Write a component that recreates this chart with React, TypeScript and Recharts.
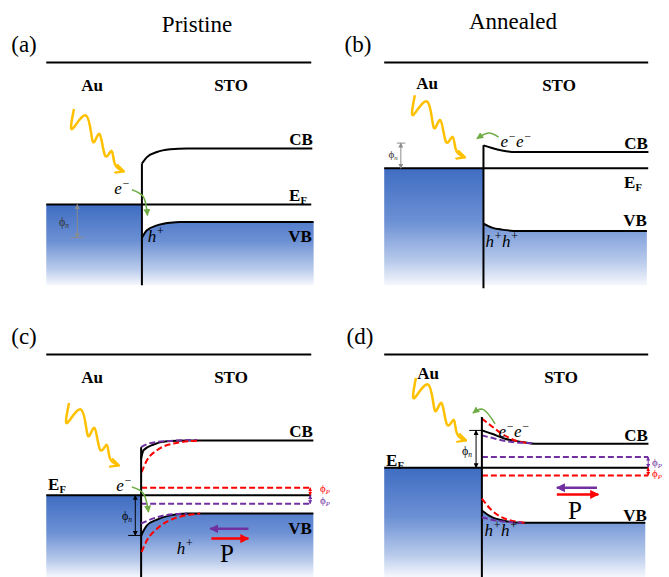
import React from "react";
import { ComposedChart, Line, Area, XAxis, YAxis } from "recharts";

type Pt = { x: number; y: number };
const p = (x: number, y: number): Pt => ({ x, y });

// x: position across the panel (0..100, interface ~36), y: energy (0 = bottom, 100 = vacuum line)

// ---- (a) Pristine, dark
const VAC_A = [p(0, 100), p(100, 100)];
const CB_A = [p(36.1, 54.6), p(38.0, 57.5), p(41.8, 59.8), p(46.8, 61.0), p(53.1, 61.4), p(100.4, 61.4)];
const IF_A = [p(36.1, 54.6), p(36.1, 0)];
const EF_A = [p(0, 36.3), p(100, 36.3)];
const VB_A = [p(36.1, 21.4), p(38.0, 24.7), p(41.8, 26.9), p(46.8, 28.1), p(50.6, 28.4), p(100.9, 28.4)];
const METAL_A = [p(0, 36.3), p(36.1, 36.3)];
const PHI_N_A = [p(11.7, 36.3), p(11.7, 21.4)];
const TICK_A = [p(9.1, 21.4), p(14.3, 21.4)];
const WAVE_A = [p(10.45, 79.1), p(9.8, 70.1), p(15.1, 76.1), p(17.6, 64.4), p(20.1, 67.9), p(22.2, 58.2), p(24.6, 60.4), p(25.9, 54.4), p(29.3, 51.1)];
const GREEN_A = [p(32.3, 42.9), p(36.7, 39.6), p(38.2, 31.4)];

// ---- (b) Annealed, dark
const VAC_B = [p(0, 100), p(100, 100)];
const CB_B = [p(37.6, 62.8), p(40.8, 61.6), p(44.6, 60.5), p(49.6, 59.8), p(100.1, 59.8)];
const IF_B = [p(37.6, 62.8), p(37.6, -1.3)];
const EF_B = [p(0, 52.5), p(100, 52.5)];
const VB_B = [p(37.6, 27.7), p(40.8, 25.9), p(44.6, 25.0), p(50.9, 24.4), p(99.5, 24.4)];
const METAL_B = [p(0, 52.5), p(37.6, 52.5)];
const PHI_N_B = [p(6.3, 52.5), p(6.3, 63.8)];
const TICK_B = [p(4.8, 63.8), p(8.0, 63.8)];
const WAVE_B = [p(11.6, 85.3), p(11.0, 76.4), p(16.3, 82.4), p(18.8, 70.7), p(21.3, 74.1), p(23.4, 64.4), p(25.9, 66.7), p(27.2, 60.7), p(30.6, 57.4)];
const GREEN_B = [p(43.3, 66.5), p(39.5, 68.3), p(35.1, 65.8)];

// ---- (c) Pristine, illuminated with polarization
const VAC_C = [p(0, 100), p(100, 100)];
const CB_C = [p(35.8, 53.2), p(36.7, 57.0), p(40.5, 59.6), p(45.5, 61.0), p(53.1, 61.4), p(100.8, 61.4)];
const CB_C_PUR = [p(35.8, 58.4), p(39.2, 60.2), p(45.5, 61.1), p(56.9, 61.6)];
const CB_C_RED = [p(36.0, 47.2), p(38.0, 52.5), p(41.8, 57.0), p(48.0, 60.0), p(58.1, 61.4)];
const IF_C = [p(35.8, 58.4), p(35.8, 0)];
const EF_C = [p(0, 36.8), p(100, 36.8)];
const EF_C_RED = [p(35.8, 40.2), p(100, 40.2)];
const EF_C_PUR = [p(35.8, 33.0), p(100, 33.0)];
const VB_C = [p(35.8, 18.8), p(38.0, 23.3), p(41.8, 25.9), p(46.8, 27.8), p(53.1, 28.6), p(100.8, 28.6)];
const VB_C_PUR = [p(35.8, 24.1), p(39.2, 25.9), p(45.5, 28.0), p(53.1, 28.6)];
const VB_C_RED = [p(36.0, 11.4), p(38.0, 16.6), p(41.8, 21.8), p(48.0, 26.3), p(58.1, 28.6)];
const METAL_C = [p(0, 36.8), p(35.8, 36.8)];
const PHI_N_C = [p(33.6, 36.8), p(33.6, 18.8)];
const TICK_C = [p(30.9, 18.8), p(36.2, 18.8)];
const PHI_P_C_RED = [p(99.6, 40.2), p(99.6, 36.8)];
const PHI_P_C_PUR = [p(99.6, 36.8), p(99.6, 33.0)];
const P_LEFT_C = [p(76.3, 21.8), p(61.9, 21.8)];
const P_RIGHT_C = [p(62.3, 17.4), p(76.3, 17.4)];
const WAVE_C = [p(8.6, 78.2), p(7.9, 69.2), p(13.2, 75.2), p(15.7, 63.5), p(18.2, 67.0), p(20.3, 57.3), p(22.8, 59.5), p(24.0, 53.5), p(27.4, 50.2)];
const GREEN_C = [p(32.3, 40.5), p(36.7, 37.5), p(38.6, 29.3)];

// ---- (d) Annealed, illuminated with polarization
const VAC_D = [p(0, 100), p(100, 100)];
const CB_D = [p(37.0, 65.9), p(40.8, 64.4), p(45.8, 62.2), p(52.2, 60.7), p(57.2, 59.9), p(100.1, 59.9)];
const CB_D_RED = [p(37.0, 71.2), p(39.5, 68.9), p(44.6, 64.4), p(49.6, 61.4), p(54.7, 60.2)];
const CB_D_PUR = [p(37.0, 63.7), p(42.0, 62.2), p(48.4, 60.7), p(56.0, 60.2)];
const IF_D = [p(37.0, 71.9), p(37.0, -1)];
const EF_D = [p(0, 49.2), p(100, 49.2)];
const EF_D_PUR = [p(37.0, 54.0), p(100, 54.0)];
const EF_D_RED = [p(37.0, 45.7), p(100, 45.7)];
const VB_D = [p(37.0, 30.0), p(40.8, 27.0), p(45.8, 25.3), p(52.2, 24.5), p(98.9, 24.5)];
const VB_D_RED = [p(37.0, 35.3), p(40.8, 30.0), p(45.8, 26.3), p(53.4, 24.5)];
const VB_D_PUR = [p(37.0, 27.0), p(43.3, 25.3), p(52.2, 24.5)];
const METAL_D = [p(0, 49.2), p(37.0, 49.2)];
const PHI_N_D = [p(34.8, 49.2), p(34.8, 65.9)];
const TICK_D = [p(32.2, 65.9), p(37.5, 65.9)];
const PHI_P_D_PUR = [p(100, 54.0), p(100, 49.2)];
const PHI_P_D_RED = [p(100, 49.2), p(100, 45.7)];
const P_LEFT_D = [p(80.6, 40.2), p(65.4, 40.2)];
const P_RIGHT_D = [p(65.4, 37.2), p(81.1, 37.2)];
const WAVE_D = [p(12.0, 89.4), p(11.4, 80.4), p(16.7, 86.4), p(19.2, 74.8), p(21.7, 78.2), p(23.8, 68.5), p(26.3, 70.7), p(27.5, 64.7), p(31.0, 61.4)];
const GREEN_D = [p(42.0, 68.9), p(37.6, 75.2), p(33.6, 73.7)];

const X_DOMAIN: [number, number] = [-5, 105];
const Y_DOMAIN: [number, number] = [-2, 106];

const BLACK = "#000000";
const RED = "#ff0000";
const PURPLE = "#7030a0";
const GREEN = "#70ad47";
const YELLOW = "#ffc000";
const GRAY = "#8c8c8c";
const SERIF = '"Liberation Serif", "Times New Roman", Times, serif';

type Curve = "linear" | "monotone" | "natural";
interface Seg {
  data: Pt[];
  color: string;
  width?: number;
  dash?: string;
  curve?: Curve;
  start?: string;
  end?: string;
}

const solid = (data: Pt[], curve: Curve = "monotone"): Seg => ({ data, color: BLACK, width: 2, curve });
const dashed = (data: Pt[], color: string, curve: Curve = "monotone"): Seg => ({ data, color, width: 2, dash: "6 3", curve });

function Head({ id, color, size, open }: { id: string; color: string; size: number; open?: boolean }) {
  return (
    <marker id={id} viewBox="0 0 10 10" refX={9} refY={5} markerWidth={size} markerHeight={size} markerUnits="userSpaceOnUse" orient="auto-start-reverse">
      {open ? (
        <path d="M1,1 L9,5 L1,9" fill="none" stroke={color} strokeWidth={2.2} strokeLinecap="round" />
      ) : (
        <path d="M0,0 L10,5 L0,10 z" fill={color} />
      )}
    </marker>
  );
}

interface PanelProps {
  id: string;
  left: number;
  top: number;
  width: number;
  height: number;
  gradTop: number;
  fills: Pt[][];
  lines: (id: string) => Seg[];
}

function BandPanel({ id, left, top, width, height, gradTop, fills, lines }: PanelProps) {
  const ySvg = (v: number) => ((Y_DOMAIN[1] - v) / (Y_DOMAIN[1] - Y_DOMAIN[0])) * height;
  const segs = lines(id);
  return (
    <div style={{ position: "absolute", left, top }}>
      <ComposedChart width={width} height={height} margin={{ top: 0, right: 0, bottom: 0, left: 0 }}>
        <defs>
          <linearGradient id={`${id}-blue`} gradientUnits="userSpaceOnUse" x1={0} y1={ySvg(gradTop)} x2={0} y2={ySvg(0)}>
            <stop offset="0" stopColor="#3f6dc2" />
            <stop offset="0.45" stopColor="#6c90d4" />
            <stop offset="0.8" stopColor="#b9cbeb" />
            <stop offset="1" stopColor="#f6f8fd" />
          </linearGradient>
          <Head id={`${id}-yel`} color={YELLOW} size={10} open />
          <Head id={`${id}-grn`} color={GREEN} size={7} />
          <Head id={`${id}-red`} color={RED} size={9} />
          <Head id={`${id}-pur`} color={PURPLE} size={9} />
          <Head id={`${id}-blk`} color={BLACK} size={5} />
          <Head id={`${id}-gry`} color={GRAY} size={5} />
          <Head id={`${id}-redS`} color={RED} size={4} />
          <Head id={`${id}-purS`} color={PURPLE} size={4} />
        </defs>
        <XAxis type="number" dataKey="x" domain={X_DOMAIN} allowDataOverflow hide />
        <YAxis type="number" dataKey="y" domain={Y_DOMAIN} allowDataOverflow hide />
        {fills.map((d, i) => (
          <Area
            key={`f${i}`}
            data={d}
            dataKey="y"
            type="monotone"
            baseValue={0}
            stroke="none"
            fill={`url(#${id}-blue)`}
            fillOpacity={1}
            isAnimationActive={false}
            activeDot={false}
          />
        ))}
        {segs.map((s, i) => (
          <Line
            key={`l${i}`}
            data={s.data}
            dataKey="y"
            type={s.curve || "linear"}
            stroke={s.color}
            strokeWidth={s.width || 2}
            strokeDasharray={s.dash}
            dot={false}
            activeDot={false}
            markerStart={s.start ? `url(#${s.start})` : undefined}
            markerEnd={s.end ? `url(#${s.end})` : undefined}
            isAnimationActive={false}
          />
        ))}
      </ComposedChart>
    </div>
  );
}

function Txt({ x, y, size = 16, bold, italic, color = "#000", children }: any) {
  return (
    <div
      style={{
        position: "absolute",
        left: x,
        top: y,
        transform: "translate(-50%, -50%)",
        fontFamily: SERIF,
        fontSize: size,
        fontWeight: bold ? 700 : 400,
        fontStyle: italic ? "italic" : "normal",
        color,
        whiteSpace: "nowrap",
        lineHeight: 1,
      }}
    >
      {children}
    </div>
  );
}

const Sub = ({ children, italic }: any) => (
  <sub style={{ fontSize: "0.62em", verticalAlign: "-0.3em", lineHeight: 0, fontStyle: italic ? "italic" : undefined }}>{children}</sub>
);
const Sup = ({ children }: any) => (
  <sup style={{ fontSize: "0.7em", verticalAlign: "0.55em", lineHeight: 0 }}>{children}</sup>
);

const Ef = () => (
  <span>
    E<Sub>F</Sub>
  </span>
);
const PhiN = () => (
  <span>
    ϕ<Sub italic>n</Sub>
  </span>
);
const PhiP = () => (
  <span>
    ϕ<Sub italic>P</Sub>
  </span>
);
const El = () => (
  <span>
    e<Sup>−</Sup>
  </span>
);
const Ho = () => (
  <span>
    h<Sup>+</Sup>
  </span>
);

const COL1 = { left: 46 - 5 * 2.65, width: 110 * 2.65 };
const COL2 = { left: 384 - 5 * 2.64, width: 110 * 2.64 };
const ROW_H = 108 * 2.23;
const ROW1_TOP = 285 - 106 * 2.23;
const ROW2_TOP = 577 - 106 * 2.23;

export default function App() {
  return (
    <div style={{ position: "fixed", left: 0, top: 0, width: 669, height: 577, overflow: "hidden", background: "#fff" }}>
      <BandPanel
        id="pa"
        left={COL1.left}
        top={ROW1_TOP}
        width={COL1.width}
        height={ROW_H}
        gradTop={36.3}
        fills={[METAL_A, VB_A]}
        lines={(id) => [
          solid(VAC_A, "linear"),
          solid(EF_A, "linear"),
          solid(CB_A),
          solid(IF_A, "linear"),
          solid(VB_A),
          { data: PHI_N_A, color: GRAY, width: 1, start: `${id}-gry`, end: `${id}-gry` },
          { data: TICK_A, color: GRAY, width: 1 },
          { data: WAVE_A, color: YELLOW, width: 2.5, curve: "natural", end: `${id}-yel` },
          { data: GREEN_A, color: GREEN, width: 1.5, curve: "natural", end: `${id}-grn` },
        ]}
      />
      <BandPanel
        id="pb"
        left={COL2.left}
        top={ROW1_TOP}
        width={COL2.width}
        height={ROW_H}
        gradTop={52.5}
        fills={[METAL_B, VB_B]}
        lines={(id) => [
          solid(VAC_B, "linear"),
          solid(EF_B, "linear"),
          solid(CB_B),
          solid(IF_B, "linear"),
          solid(VB_B),
          { data: PHI_N_B, color: GRAY, width: 1, start: `${id}-gry`, end: `${id}-gry` },
          { data: TICK_B, color: GRAY, width: 1 },
          { data: WAVE_B, color: YELLOW, width: 2.5, curve: "natural", end: `${id}-yel` },
          { data: GREEN_B, color: GREEN, width: 1.5, curve: "natural", end: `${id}-grn` },
        ]}
      />
      <BandPanel
        id="pc"
        left={COL1.left}
        top={ROW2_TOP}
        width={COL1.width}
        height={ROW_H}
        gradTop={36.8}
        fills={[METAL_C, VB_C]}
        lines={(id) => [
          solid(VAC_C, "linear"),
          solid(EF_C, "linear"),
          dashed(EF_C_RED, RED, "linear"),
          dashed(EF_C_PUR, PURPLE, "linear"),
          solid(CB_C),
          dashed(CB_C_PUR, PURPLE),
          dashed(CB_C_RED, RED),
          solid(IF_C, "linear"),
          solid(VB_C),
          dashed(VB_C_PUR, PURPLE),
          dashed(VB_C_RED, RED),
          { data: PHI_N_C, color: BLACK, width: 1, start: `${id}-blk`, end: `${id}-blk` },
          { data: TICK_C, color: BLACK, width: 1 },
          { data: PHI_P_C_RED, color: RED, width: 1, start: `${id}-redS`, end: `${id}-redS` },
          { data: PHI_P_C_PUR, color: PURPLE, width: 1, start: `${id}-purS`, end: `${id}-purS` },
          { data: P_LEFT_C, color: PURPLE, width: 2.5, end: `${id}-pur` },
          { data: P_RIGHT_C, color: RED, width: 2.5, end: `${id}-red` },
          { data: WAVE_C, color: YELLOW, width: 2.5, curve: "natural", end: `${id}-yel` },
          { data: GREEN_C, color: GREEN, width: 1.5, curve: "natural", end: `${id}-grn` },
        ]}
      />
      <BandPanel
        id="pd"
        left={COL2.left}
        top={ROW2_TOP}
        width={COL2.width}
        height={ROW_H}
        gradTop={49.2}
        fills={[METAL_D, VB_D]}
        lines={(id) => [
          solid(VAC_D, "linear"),
          solid(EF_D, "linear"),
          dashed(EF_D_PUR, PURPLE, "linear"),
          dashed(EF_D_RED, RED, "linear"),
          solid(CB_D),
          dashed(CB_D_RED, RED),
          dashed(CB_D_PUR, PURPLE),
          solid(IF_D, "linear"),
          solid(VB_D),
          dashed(VB_D_RED, RED),
          dashed(VB_D_PUR, PURPLE),
          { data: PHI_N_D, color: BLACK, width: 1, start: `${id}-blk`, end: `${id}-blk` },
          { data: TICK_D, color: BLACK, width: 1 },
          { data: PHI_P_D_PUR, color: PURPLE, width: 1, start: `${id}-purS`, end: `${id}-purS` },
          { data: PHI_P_D_RED, color: RED, width: 1, start: `${id}-redS`, end: `${id}-redS` },
          { data: P_LEFT_D, color: PURPLE, width: 2.5, end: `${id}-pur` },
          { data: P_RIGHT_D, color: RED, width: 2.5, end: `${id}-red` },
          { data: WAVE_D, color: YELLOW, width: 2.5, curve: "natural", end: `${id}-yel` },
          { data: GREEN_D, color: GREEN, width: 1.5, curve: "natural", end: `${id}-grn` },
        ]}
      />

      {/* headings */}
      <Txt x={197} y={24} size={23}>Pristine</Txt>
      <Txt x={513} y={21} size={23}>Annealed</Txt>
      <Txt x={24} y={44} size={23}>(a)</Txt>
      <Txt x={358} y={44} size={23}>(b)</Txt>
      <Txt x={24} y={336} size={23}>(c)</Txt>
      <Txt x={360} y={336} size={23}>(d)</Txt>

      {/* (a) */}
      <Txt x={92} y={85} size={17} bold>Au</Txt>
      <Txt x={231} y={85} size={17} bold>STO</Txt>
      <Txt x={301} y={139} size={17} bold>CB</Txt>
      <Txt x={298} y={195} size={17} bold><Ef /></Txt>
      <Txt x={300} y={236} size={17} bold>VB</Txt>
      <Txt x={64} y={222} size={12} color="#333"><PhiN /></Txt>
      <Txt x={122} y={188} size={17} italic><El /></Txt>
      <Txt x={156} y={236} size={17} italic><Ho /></Txt>

      {/* (b) */}
      <Txt x={427} y={83} size={17} bold>Au</Txt>
      <Txt x={559} y={85} size={17} bold>STO</Txt>
      <Txt x={636} y={143} size={17} bold>CB</Txt>
      <Txt x={633} y={182} size={17} bold><Ef /></Txt>
      <Txt x={635} y={220} size={17} bold>VB</Txt>
      <Txt x={393} y={154} size={11} color="#333"><PhiN /></Txt>
      <Txt x={516} y={141} size={17} italic><El /><El /></Txt>
      <Txt x={502} y={241} size={17} italic><Ho /><Ho /></Txt>

      {/* (c) */}
      <Txt x={92} y={377} size={17} bold>Au</Txt>
      <Txt x={231} y={377} size={17} bold>STO</Txt>
      <Txt x={301} y={431} size={17} bold>CB</Txt>
      <Txt x={57} y={484} size={17} bold><Ef /></Txt>
      <Txt x={300} y={528} size={17} bold>VB</Txt>
      <Txt x={124} y={485} size={17} italic><El /></Txt>
      <Txt x={127} y={516} size={12}><PhiN /></Txt>
      <Txt x={185} y={548} size={17} italic><Ho /></Txt>
      <Txt x={227} y={553} size={25}>P</Txt>
      <Txt x={325} y={488} size={11} color={RED}><PhiP /></Txt>
      <Txt x={325} y={500} size={11} color={PURPLE}><PhiP /></Txt>

      {/* (d) */}
      <Txt x={428} y={373} size={17} bold>Au</Txt>
      <Txt x={561} y={377} size={17} bold>STO</Txt>
      <Txt x={395} y={460} size={17} bold><Ef /></Txt>
      <Txt x={467} y={451} size={12}><PhiN /></Txt>
      <Txt x={514} y={431} size={17} italic><El /><El /></Txt>
      <Txt x={636} y={435} size={17} bold>CB</Txt>
      <Txt x={635} y={515} size={17} bold>VB</Txt>
      <Txt x={575} y={510} size={25}>P</Txt>
      <Txt x={501} y={530} size={17} italic><Ho /><Ho /></Txt>
      <Txt x={657} y={462} size={11} color={PURPLE}><PhiP /></Txt>
      <Txt x={657} y={473} size={11} color={RED}><PhiP /></Txt>
    </div>
  );
}
